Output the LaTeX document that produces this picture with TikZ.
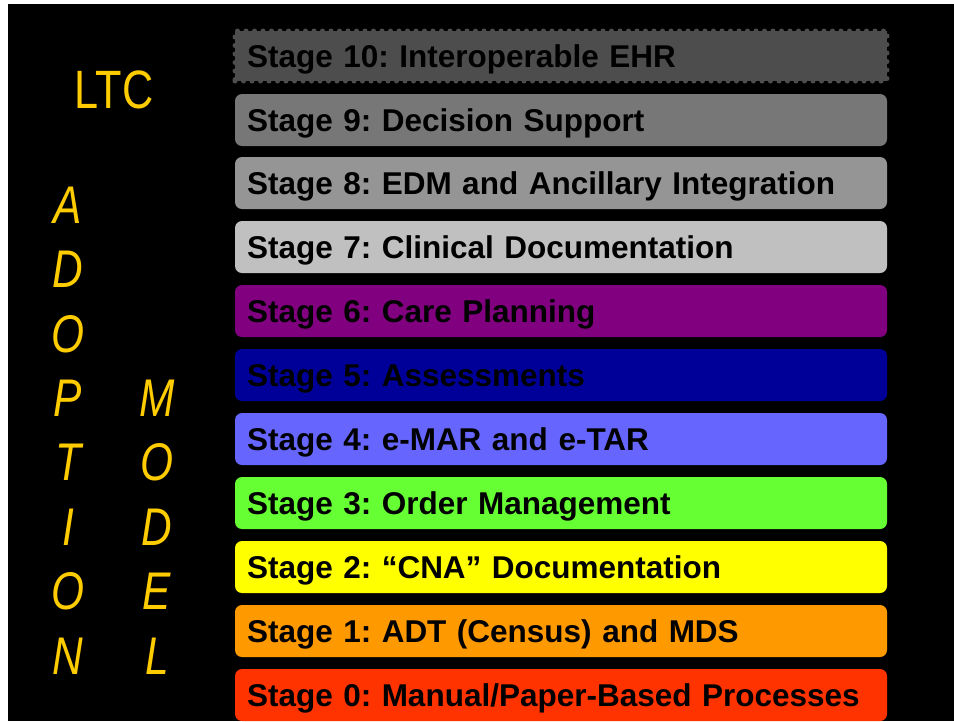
\documentclass[tikz,border=0pt]{standalone}
\usepackage{fontspec}
\setmainfont{Liberation Sans}
\newfontfamily\ltcfont[FakeStretch=0.8]{Liberation Sans}
\frenchspacing

\definecolor{ltcyellow}{HTML}{FFCC00}
\definecolor{stageten}{HTML}{4D4D4D}
\definecolor{stagenine}{HTML}{777777}
\definecolor{stageeight}{HTML}{959595}
\definecolor{stageseven}{HTML}{C0C0C0}
\definecolor{stagesix}{HTML}{800080}
\definecolor{stagefive}{HTML}{000099}
\definecolor{stagefour}{HTML}{6666FF}
\definecolor{stagethree}{HTML}{66FF33}
\definecolor{stagetwo}{HTML}{FFFF00}
\definecolor{stageone}{HTML}{FF9900}
\definecolor{stagezero}{HTML}{FF3300}

\begin{document}
\begin{tikzpicture}[x=1pt,y=-1pt,
    stagebox/.style={rounded corners=7pt, minimum height=52pt, text width=628pt,
      inner xsep=12pt, inner ysep=0pt, align=left, text height=23pt, text depth=0pt,
      text=black, font=\fontsize{31.5}{36}\selectfont\bfseries},
    stampbox/.style={stagebox, rounded corners=0pt, minimum height=50pt,
      line width=5pt, line cap=round, dash pattern=on 0pt off 8.5pt},
    letter/.style={text=ltcyellow, inner sep=0pt, text height=38pt, text depth=0pt,
      font=\ltcfont\fontsize{53}{60}\selectfont\itshape}]
  \useasboundingbox (0,0) rectangle (954,721);
  \fill[white] (0,0) rectangle (954,721);
  \fill[black] (8,4) rectangle (954,721);

  % title
  \node[letter, font=\ltcfont\fontsize{54}{60}\selectfont] (ltc) at (114,89) {LTC};

  % ADOPTION
  \node[letter] (a1) at (68,204) {A};
  \node[letter] (a2) at (68,268) {D};
  \node[letter] (a3) at (68,333) {O};
  \node[letter] (a4) at (68,397) {P};
  \node[letter] (a5) at (68,461) {T};
  \node[letter] (a6) at (68,526) {I};
  \node[letter] (a7) at (68,590) {O};
  \node[letter] (a8) at (68,655) {N};
  % MODEL
  \node[letter] (m1) at (157,397) {M};
  \node[letter] (m2) at (157,461) {O};
  \node[letter] (m3) at (157,526) {D};
  \node[letter] (m4) at (157,590) {E};
  \node[letter] (m5) at (157,655) {L};

  % stages
  \node[stampbox, fill=stageten, draw=stageten] (s10) at (561,56) {Stage 10: Interoperable EHR};
  \node[stagebox, fill=stagenine]  (s9) at (561,120) {Stage 9: Decision Support};
  \node[stagebox, fill=stageeight] (s8) at (561,183) {Stage 8: EDM and Ancillary Integration};
  \node[stagebox, fill=stageseven] (s7) at (561,247) {Stage 7: Clinical Documentation};
  \node[stagebox, fill=stagesix]   (s6) at (561,311) {Stage 6: Care Planning};
  \node[stagebox, fill=stagefive]  (s5) at (561,375) {Stage 5: Assessments};
  \node[stagebox, fill=stagefour]  (s4) at (561,439) {Stage 4: e-MAR and e-TAR};
  \node[stagebox, fill=stagethree] (s3) at (561,503) {Stage 3: Order Management};
  \node[stagebox, fill=stagetwo]   (s2) at (561,567) {Stage 2: “CNA” Documentation};
  \node[stagebox, fill=stageone]   (s1) at (561,631) {Stage 1: ADT (Census) and MDS};
  \node[stagebox, fill=stagezero]  (s0) at (561,695) {Stage 0: Manual/Paper-Based Processes};
\end{tikzpicture}
\end{document}
